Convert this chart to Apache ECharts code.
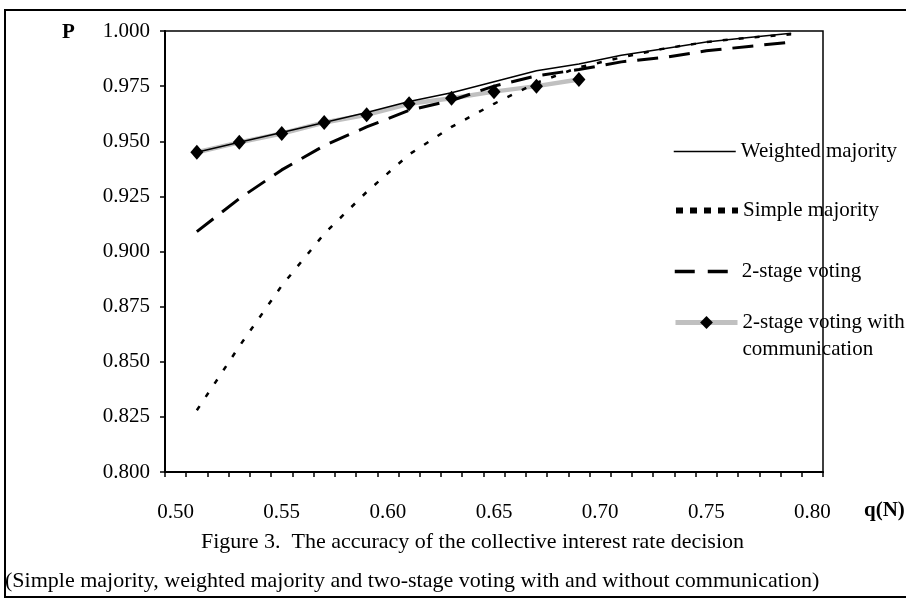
<!DOCTYPE html>
<html>
<head>
<meta charset="utf-8">
<script src="https://cdn.jsdelivr.net/npm/echarts@6/dist/echarts.min.js"></script>
<style>
html,body{margin:0;padding:0;background:#fff;}
#chart{width:906px;height:599px;}
</style>
</head>
<body>
<div id="chart"></div>
<script>
// Category axis (tick labels every 0.05 are shown)
var categories = ['0.50','0.51','0.52','0.53','0.54','0.55','0.56','0.57','0.58','0.59','0.60',
  '0.61','0.62','0.63','0.64','0.65','0.66','0.67','0.68','0.69','0.70',
  '0.71','0.72','0.73','0.74','0.75','0.76','0.77','0.78','0.79','0.80'];
// q(N) values at which the series are plotted
var qPoints = ['0.51','0.53','0.55','0.57','0.59','0.61','0.63','0.65','0.67','0.69','0.71','0.73','0.75','0.77','0.79'];
var weighted = [0.945,0.9495,0.954,0.9585,0.963,0.968,0.972,0.977,0.982,0.985,0.989,0.992,0.995,0.997,0.999];
var simple   = [0.828,0.857,0.8845,0.908,0.927,0.944,0.9565,0.967,0.9765,0.9835,0.988,0.992,0.995,0.997,0.9985];
var twoStage = [0.909,0.924,0.937,0.948,0.9565,0.964,0.9685,0.975,0.9797,0.9825,0.986,0.988,0.991,0.993,0.995];
var qComm = ['0.51','0.53','0.55','0.57','0.59','0.61','0.63','0.65','0.67','0.69'];
var comm  = [0.945,0.9495,0.9535,0.9585,0.962,0.967,0.9695,0.9725,0.975,0.978];
var yTicks = {min:0.8, max:1.0, interval:0.025};

function pairs(xs, ys){ return xs.map(function(x,i){ return [x, ys[i]]; }); }

var FONT = '"Liberation Serif", "Times New Roman", serif';
var chart = echarts.init(document.getElementById('chart'));
var names = ['Weighted majority','Simple majority','2-stage voting','2-stage voting with communication'];

function legendAt(name, top, extra){
  var l = {
    data:[name], left:668, top:top, orient:'vertical',
    itemWidth:62, itemHeight:16, itemGap:0,
    textStyle:{fontFamily:FONT, fontSize:21, color:'#000', lineHeight:27},
    selectedMode:false
  };
  for (var k in extra) l[k] = extra[k];
  return l;
}

chart.setOption({
  animation:false,
  backgroundColor:'#fff',
  grid:{left:165, right:83, top:31, bottom:127, show:true, borderColor:'#000', borderWidth:1.5, backgroundColor:'transparent'},
  legend:[
    legendAt(names[0], 133, {lineStyle:{width:1.5, type:'solid', color:'#000'}, itemStyle:{opacity:0}}),
    legendAt(names[1], 192, {lineStyle:{width:6, type:[7,7], color:'#000', cap:'butt'}, itemStyle:{opacity:0}}),
    legendAt(names[2], 253, {lineStyle:{width:3.5, type:[20,13], color:'#000'}, itemStyle:{opacity:0}}),
    legendAt(names[3], 277, {
      lineStyle:{width:5, type:'solid', color:'#c0c0c0'},
      formatter:function(){ return '\n2-stage voting with\ncommunication'; }
    })
  ],
  xAxis:{
    type:'category', data:categories, boundaryGap:true,
    axisLine:{lineStyle:{color:'#000', width:2}},
    axisTick:{show:true, interval:0, length:5, lineStyle:{color:'#000', width:1.5}},
    axisLabel:{interval:4, margin:30, fontFamily:FONT, fontSize:21, color:'#000'},
    splitLine:{show:false}
  },
  yAxis:{
    type:'value', min:yTicks.min, max:yTicks.max, interval:yTicks.interval,
    axisLine:{show:true, lineStyle:{color:'#000', width:2}},
    axisTick:{show:true, length:5, lineStyle:{color:'#000', width:1.5}},
    axisLabel:{margin:15, fontFamily:FONT, fontSize:21, color:'#000',
      formatter:function(v){ return v.toFixed(3); }},
    splitLine:{show:false}
  },
  series:[
    {name:names[0], type:'line', data:pairs(qPoints, weighted), symbol:'none', z:4,
      lineStyle:{color:'#000', width:1.5}, itemStyle:{color:'#000'}},
    {name:names[1], type:'line', data:pairs(qPoints, simple), symbol:'none', z:3,
      lineStyle:{color:'#000', width:2.5, type:[5,11]}, itemStyle:{color:'#000'}},
    {name:names[2], type:'line', data:pairs(qPoints, twoStage), symbol:'none', z:3,
      lineStyle:{color:'#000', width:3, type:[21,11]}, itemStyle:{color:'#000'}},
    {name:names[3], type:'line', data:pairs(qComm, comm), symbol:'diamond', symbolSize:[13,15],
      showSymbol:true, showAllSymbol:true, z:2,
      lineStyle:{color:'#c0c0c0', width:4.5}, itemStyle:{color:'#000'}}
  ],
  graphic:[
    {type:'rect', shape:{x:5, y:10, width:905, height:587}, style:{fill:null, stroke:'#000', lineWidth:2}, silent:true},
    {type:'text', left:62, top:22, style:{text:'P', font:'bold 21px ' + FONT, fill:'#000'}},
    {type:'text', left:864, top:500, style:{text:'q(N)', font:'bold 21px ' + FONT, fill:'#000'}},
    {type:'text', left:201, top:531, style:{text:'Figure 3.  The accuracy of the collective interest rate decision', font:'22px ' + FONT, fill:'#000'}},
    {type:'text', left:5, top:570, style:{text:'(Simple majority, weighted majority and two-stage voting with and without communication)', font:'22px ' + FONT, fill:'#000'}}
  ]
});
</script>
</body>
</html>
